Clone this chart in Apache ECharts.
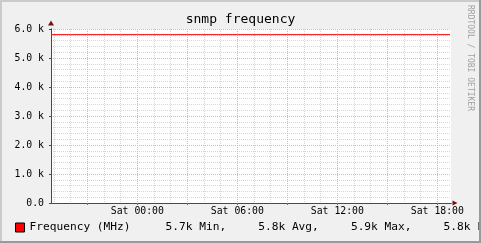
<!DOCTYPE html>
<html><head><meta charset="utf-8">
<script src="https://cdn.jsdelivr.net/npm/echarts@6/dist/echarts.min.js"></script>
<style>html,body{margin:0;padding:0;background:#f0f0f0}#c{width:481px;height:243px}</style>
</head><body><div id="c"></div>
<script>
// ---- data ----
const chartTitle = 'snmp frequency';
const seriesName = 'Frequency (MHz)';
const hours = [-5.18, -5, -4, -3, -2, -1, 0, 1, 2, 3, 4, 5, 6, 7, 8, 9, 10, 11, 12, 13, 14, 15, 16, 17, 18, 18.76];
const freq  = [5805, 5805, 5805, 5805, 5805, 5805, 5805, 5805, 5805, 5805, 5805, 5805, 5805, 5805, 5805, 5805, 5805, 5805, 5805, 5805, 5805, 5805, 5805, 5805, 5805, 5805];
const xLabelHours = [0, 6, 12, 18];
const xLabelTexts = ['Sat 00:00', 'Sat 06:00', 'Sat 12:00', 'Sat 18:00'];
const xMajorHours = [-3, 0, 3, 6, 9, 12, 15, 18];
const xMinorHours = [-5, -4, -3, -2, -1, 0, 1, 2, 3, 4, 5, 6, 7, 8, 9, 10, 11, 12, 13, 14, 15, 16, 17, 18];
const yMin = 0, yMax = 6000, yStep = 1000;
const xMin = -5.18, xMax = 18.82;
const statNames = ['Min', 'Avg', 'Max', 'Last'];
const statValues = ['5.7k', '5.8k', '5.9k', '5.8k'];
const watermark = 'RRDTOOL / TOBI OETIKER';

// ---- chart ----
const MONO = '"DejaVu Sans Mono", monospace';
const axisGray = '#4a4a4a';
const arrowRed = '#7a1010';
const gridMajor = '#eab0b0';
const gridMinor = '#d6d6d6';

const chart = echarts.init(document.getElementById('c'), null, {renderer: 'canvas'});
const baseX = {type: 'value', min: xMin, max: xMax, position: 'bottom',
  axisLabel: {show: false}, axisTick: {show: false}, splitLine: {show: false},
  axisLine: {show: false, onZero: false}};
const baseY = {type: 'value', min: yMin, max: yMax, interval: yStep, position: 'left',
  axisLabel: {show: false}, axisTick: {show: false}, splitLine: {show: false},
  axisLine: {show: false, onZero: false}};

const legendText = '{n|' + seriesName + '}' + statValues.map((v, i) =>
  (i < statValues.length - 1 ? '{s|' : '{l|') + v + ' ' + statNames[i] + (i < statValues.length - 1 ? ',' : '') + '}').join('');

chart.setOption({
  animation: false,
  backgroundColor: '#f0f0f0',
  title: {text: chartTitle, left: 'center', top: 8,
    textStyle: {fontFamily: MONO, fontSize: 13, fontWeight: 'normal', color: '#000'}},
  grid: {left: 51, right: 30, top: 29, bottom: 40, show: true, backgroundColor: '#ffffff', borderWidth: 0, containLabel: false},
  legend: {show: true, left: 15, top: 222, padding: 0, icon: 'rect', itemWidth: 9, itemHeight: 9,
    itemStyle: {color: '#ff0000', borderColor: '#000000', borderWidth: 1},
    formatter: () => legendText,
    textStyle: {fontFamily: MONO, fontSize: 11.2, color: '#000',
      rich: {
        n: {fontFamily: MONO, fontSize: 11.2, color: '#000', width: 136},
        s: {fontFamily: MONO, fontSize: 11.2, color: '#000', width: 92.7},
        l: {fontFamily: MONO, fontSize: 11.2, color: '#000'}
      }}},
  xAxis: [
    Object.assign({}, baseX, {
      z: 4,
      axisLine: {show: true, onZero: false, lineStyle: {color: axisGray, width: 1}},
      axisTick: {show: true, length: 2, customValues: xMajorHours, lineStyle: {color: '#b05050'}},
      axisLabel: {show: true, customValues: xLabelHours, margin: 3,
        fontFamily: MONO, fontSize: 9.8, color: '#000',
        formatter: v => xLabelTexts[xLabelHours.indexOf(v)]}
    }),
    Object.assign({}, baseX, {
      z: 3,
      axisLine: {show: true, onZero: false, symbol: ['none', 'triangle'], symbolSize: [5, 5], symbolOffset: [0, 4],
        lineStyle: {color: arrowRed, width: 1}}
    }),
    Object.assign({}, baseX, {
      z: 0,
      axisTick: {show: false, customValues: xMinorHours},
      splitLine: {show: true, lineStyle: {color: gridMinor, width: 1, type: [1, 1]}}
    }),
    Object.assign({}, baseX, {
      z: 1,
      axisTick: {show: false, customValues: xMajorHours},
      splitLine: {show: true, lineStyle: {color: gridMajor, width: 1, type: [1, 1]}}
    })
  ],
  yAxis: [
    Object.assign({}, baseY, {
      z: 4,
      axisLine: {show: true, onZero: false, lineStyle: {color: axisGray, width: 1}},
      axisTick: {show: true, length: 2, lineStyle: {color: axisGray}},
      axisLabel: {show: true, margin: 7, fontFamily: MONO, fontSize: 9.8, color: '#000',
        formatter: v => v === 0 ? '0.0' : (v / 1000).toFixed(1) + ' k'}
    }),
    Object.assign({}, baseY, {
      z: 3,
      axisLine: {show: true, onZero: false, symbol: ['none', 'triangle'], symbolSize: [6, 5], symbolOffset: [0, 6],
        lineStyle: {color: arrowRed, width: 1}}
    }),
    Object.assign({}, baseY, {
      z: 0,
      minorTick: {show: false, splitNumber: 5},
      minorSplitLine: {show: true, lineStyle: {color: gridMinor, width: 1, type: [1, 1]}}
    }),
    Object.assign({}, baseY, {
      z: 1,
      splitLine: {show: true, lineStyle: {color: gridMajor, width: 1, type: [1, 1]}}
    })
  ],
  series: [{
    name: seriesName, type: 'line', xAxisIndex: 0, yAxisIndex: 0, z: 5,
    showSymbol: false, symbol: 'none',
    lineStyle: {color: '#ff0000', width: 1},
    itemStyle: {color: '#ff0000'},
    data: hours.map((h, i) => [h, freq[i]])
  }],
  graphic: [
    {type: 'text', x: 470, y: 5, rotation: -Math.PI / 2, z: 10,
      style: {text: watermark, font: '8px ' + MONO, fill: '#a0a0a0', align: 'left', verticalAlign: 'middle'}},
    {type: 'rect', z: 20, shape: {x: 0, y: 0, width: 481, height: 2}, style: {fill: '#cbcbcb'}},
    {type: 'rect', z: 20, shape: {x: 0, y: 0, width: 2, height: 243}, style: {fill: '#cbcbcb'}},
    {type: 'rect', z: 21, shape: {x: 0, y: 241, width: 481, height: 2}, style: {fill: '#999999'}},
    {type: 'rect', z: 21, shape: {x: 479, y: 0, width: 2, height: 243}, style: {fill: '#999999'}}
  ]
});
</script>
</body></html>
